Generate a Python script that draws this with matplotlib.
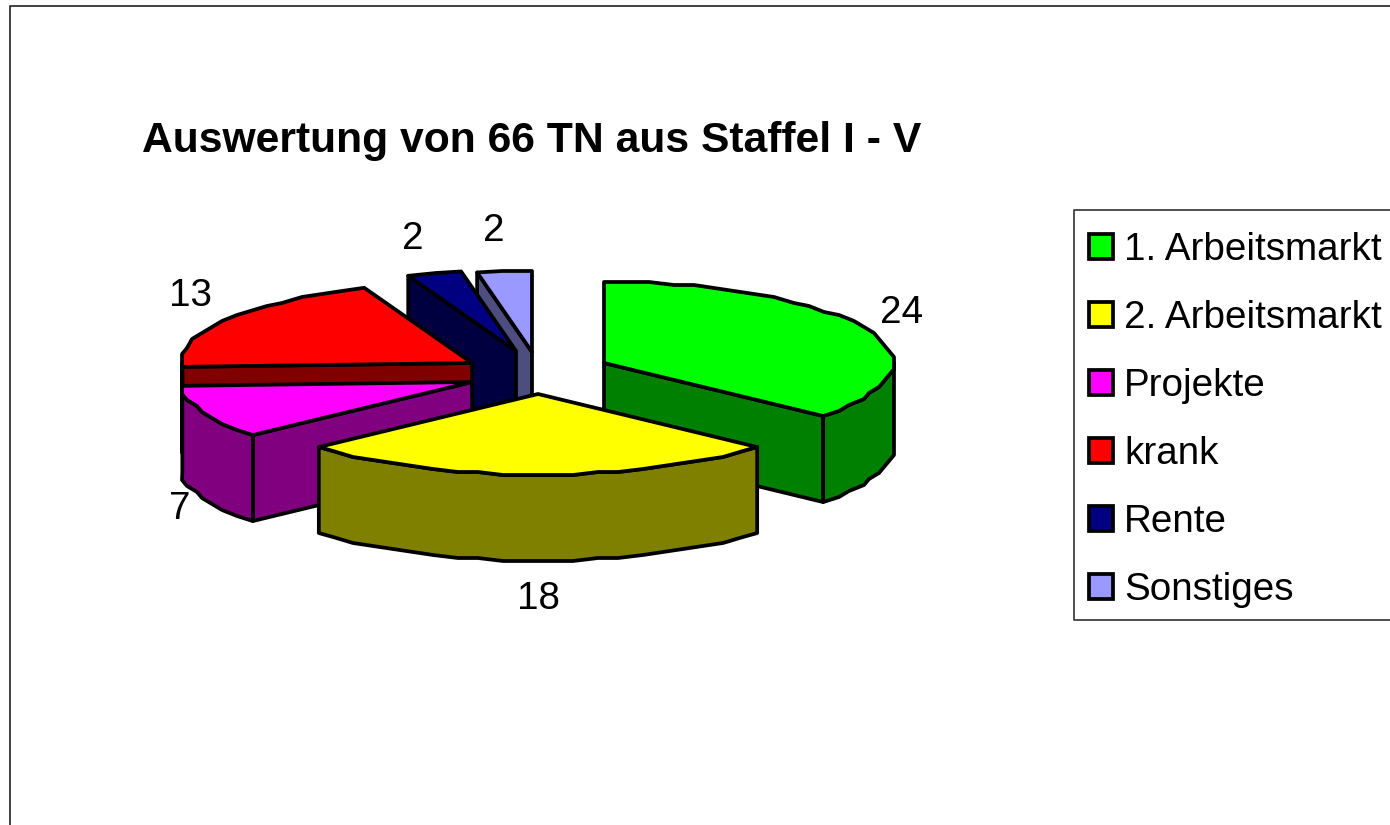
import numpy as np
import matplotlib
matplotlib.use('Agg')
import matplotlib.pyplot as plt
from matplotlib.patches import Polygon, Rectangle

plt.rcParams['font.family'] = ['Liberation Sans', 'DejaVu Sans']

# chart data
names = ['1. Arbeitsmarkt', '2. Arbeitsmarkt', 'Projekte', 'krank', 'Rente', 'Sonstiges']
values = [24, 18, 7, 13, 2, 2]
title = 'Auswertung von 66 TN aus Staffel I - V'

# styles
top_col = ['#00FF00', '#FFFF00', '#FF00FF', '#FF0000', '#000080', '#9999FF']
side_col = ['#008000', '#808000', '#800080', '#800000', '#000040', '#4D4D80']

# layout, all in pixels of the 1390x825 picture
apex_x = [604, 538, 472, 472, 516, 532]
apex_y = [363, 394, 382, 363, 351, 352]
label_x = [902, 538, 180, 191, 413, 494]
label_y = [313, 599, 509, 296, 239, 231]
draw_order = [5, 4, 3, 0, 2, 1]
rx = 290.
ry = 81.
depth = 86.
lw = 2.7
fs = 27.8


def arc(a0, a1):
    # angles clockwise from 12 o'clock, coarse steps give the rough pie edge
    n = max(int((a1 - a0) / 4.5), 1)
    a = np.radians(np.linspace(a0, a1, n + 1))
    x = rx * np.sin(a)
    y = -ry * np.cos(a)
    x[1:-1] = np.round(x[1:-1] / 5.) * 5.
    y[1:-1] = np.round(y[1:-1] / 3.) * 3.
    return x, y


fig = plt.figure(figsize=(13.9, 8.25), dpi=100)
ax = fig.add_axes([0, 0, 1, 1])
ax.set_xlim(0, 1390)
ax.set_ylim(825, 0)
ax.axis('off')

# outer chart frame, only top and left are inside the picture
ax.plot([10, 10, 1390], [825, 6, 6], color='#303030', lw=1.3)

ax.text(142, 141, title, fontsize=30.7, fontweight='bold', ha='left', va='center')

bounds = np.cumsum([0] + values) * 360. / sum(values)


def add_poly(xs, ys, col):
    ax.add_patch(Polygon(np.column_stack([xs, ys]), closed=True, fc=col, ec='black',
                         lw=lw, joinstyle='round'))


for i in draw_order:
    a0, a1 = bounds[i], bounds[i + 1]
    cx, cy = apex_x[i], apex_y[i]
    # radial wall, only when it looks to the viewer
    for a, sign in [(a0, -1), (a1, 1)]:
        if sign * np.sin(np.radians(a)) > 1e-6:
            ex = cx + rx * np.sin(np.radians(a))
            ey = cy - ry * np.cos(np.radians(a))
            add_poly([cx, ex, ex, cx], [cy, ey, ey + depth, cy + depth], side_col[i])
    # outer rim, front half of the ellipse only
    r0, r1 = max(a0, 90.), min(a1, 270.)
    if r1 > r0:
        x, y = arc(r0, r1)
        add_poly(np.r_[cx + x, cx + x[::-1]],
                 np.r_[cy + y, cy + y[::-1] + depth], side_col[i])
    x, y = arc(a0, a1)
    add_poly(np.r_[cx, cx + x], np.r_[cy, cy + y], top_col[i])
    ax.text(label_x[i], label_y[i], str(values[i]), fontsize=fs, ha='center', va='center')

# legend box
ax.plot([1390, 1074, 1074, 1390], [210, 210, 620, 620], color='#404040', lw=1.3)
for i, name in enumerate(names):
    yc = 246 + 68 * i
    ax.add_patch(Rectangle((1089, yc - 12.5), 24, 25, fc=top_col[i], ec='black', lw=lw))
    ax.text(1124, yc, name, fontsize=fs, ha='left', va='center_baseline')

fig.savefig('out.png', dpi=100)
